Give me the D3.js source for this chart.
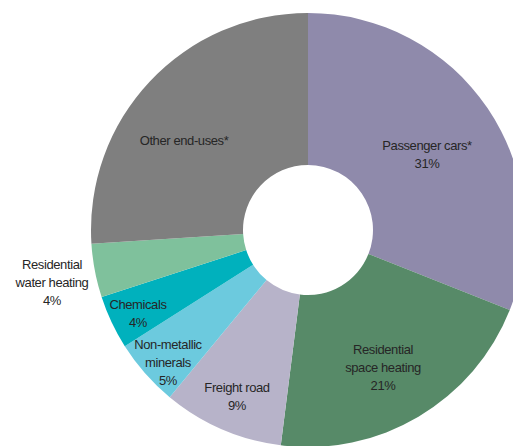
<!DOCTYPE html>
<html>
<head>
<meta charset="utf-8">
<script src="https://cdn.jsdelivr.net/npm/d3@7"></script>
<style>
    body { margin: 0; background: #fff; }
    .slice-label { font-family: "Liberation Sans", Arial, sans-serif; font-size: 13px; fill: #262626; letter-spacing: -0.4px; }
</style>
</head>
<body>
<div id="chartDiv"></div>
<script>
// Categories, clockwise from 12 o'clock
let categories = ["Passenger cars*", "Residential space heating", "Freight road",
    "Non-metallic minerals", "Chemicals", "Residential water heating", "Other end-uses*"];
let shares = [31, 21, 9, 5, 4, 4, 26];
let shareLabels = ["31%", "21%", "9%", "5%", "4%", "4%", ""];
let sliceColors = ["#8f8aab", "#578a68", "#b7b3c9", "#6ccade", "#00b1bd", "#7fc19c", "#7f7f7f"];

let width = 513, height = 446;
let cx = 308, cy = 230;
let outerR = 217, innerR = 65;

let svg = d3.select("#chartDiv").append("svg")
    .attr("width", width)
    .attr("height", height);

let g = svg.append("g")
    .attr("transform", "translate(" + cx + "," + cy + ")");

let data = categories.map((c, i) => ({name: c, value: shares[i], label: shareLabels[i], color: sliceColors[i]}));

let pie = d3.pie()
    .value(d => d.value)
    .sort(null);

let arc = d3.arc()
    .innerRadius(innerR)
    .outerRadius(outerR);

g.selectAll(".slice")
    .data(pie(data))
    .enter()
    .append("path")
    .attr("class", "slice")
    .attr("d", arc)
    .attr("fill", d => d.data.color);

// Label lines and positions (relative to chart centre)
let labelSpecs = [
    {lines: ["Passenger cars*", "31%"], x: 119, y: -80},
    {lines: ["Residential", "space heating", "21%"], x: 75, y: 124},
    {lines: ["Freight road", "9%"], x: -71, y: 162},
    {lines: ["Non-metallic", "minerals", "5%"], x: -140, y: 119},
    {lines: ["Chemicals", "4%"], x: -170, y: 79},
    {lines: ["Residential", "water heating", "4%"], x: -256, y: 39},
    {lines: ["Other end-uses*"], x: -124, y: -85}
];

let labels = g.selectAll(".slice-label")
    .data(labelSpecs)
    .enter()
    .append("text")
    .attr("class", "slice-label")
    .attr("text-anchor", "middle")
    .attr("transform", d => "translate(" + d.x + "," + d.y + ")");

labels.selectAll("tspan")
    .data(d => d.lines)
    .enter()
    .append("tspan")
    .attr("x", 0)
    .attr("dy", (d, i) => i === 0 ? 0 : 18)
    .text(d => d);
</script>
</body>
</html>
